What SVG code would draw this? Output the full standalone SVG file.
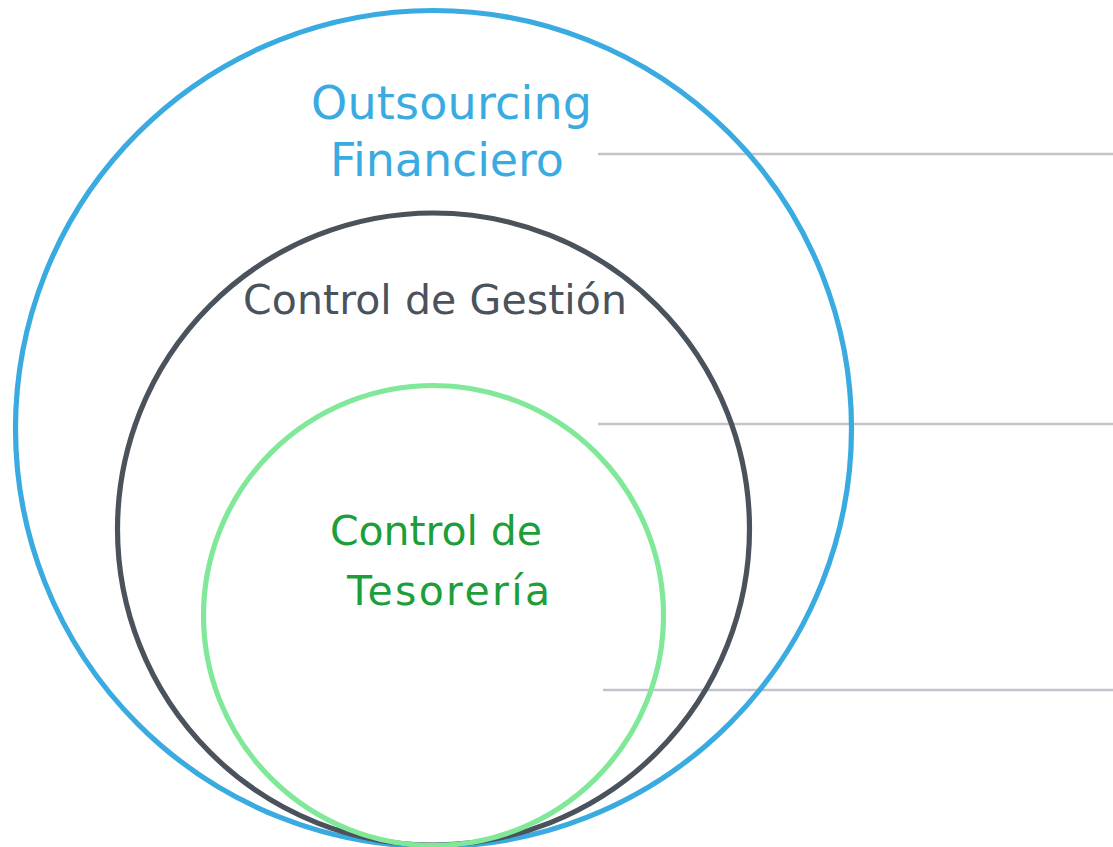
<svg xmlns="http://www.w3.org/2000/svg" width="1113" height="847" viewBox="0 0 1113 847">
<style>
.c{fill:none;stroke-width:5.2}
.l{stroke:#c3c4cb;stroke-width:2.5;fill:none}
text{font-family:"DejaVu Sans","Liberation Sans",sans-serif;text-anchor:middle}
</style>
<rect width="1113" height="847" fill="#ffffff"/>
<g id="connectors">
<line class="l" x1="598" y1="154" x2="1113" y2="154"/>
<line class="l" x1="598" y1="424" x2="1113" y2="424"/>
<line class="l" x1="603" y1="690" x2="1113" y2="690"/>
</g>
<g id="outsourcing">
<circle class="c" cx="433.5" cy="428.5" r="418" stroke="#3aabe1"/>
<text x="451.5" y="119" font-size="46" fill="#3aabe1" textLength="281" lengthAdjust="spacing">Outsourcing</text>
<text x="447" y="176" font-size="46" fill="#3aabe1" textLength="234" lengthAdjust="spacing">Financiero</text>
</g>
<g id="gestion">
<circle class="c" cx="433.5" cy="529" r="316" stroke="#4a525c"/>
<text x="435" y="314" font-size="41" fill="#4a525c" textLength="384" lengthAdjust="spacing">Control de Gestión</text>
</g>
<g id="tesoreria">
<circle class="c" cx="433.5" cy="615.5" r="230" stroke="#80e898"/>
<text x="436" y="545" font-size="41" fill="#1c9e3b" textLength="212" lengthAdjust="spacing">Control de</text>
<text x="448.5" y="605" font-size="41" fill="#1c9e3b" textLength="203" lengthAdjust="spacing">Tesorería</text>
</g>
</svg>
